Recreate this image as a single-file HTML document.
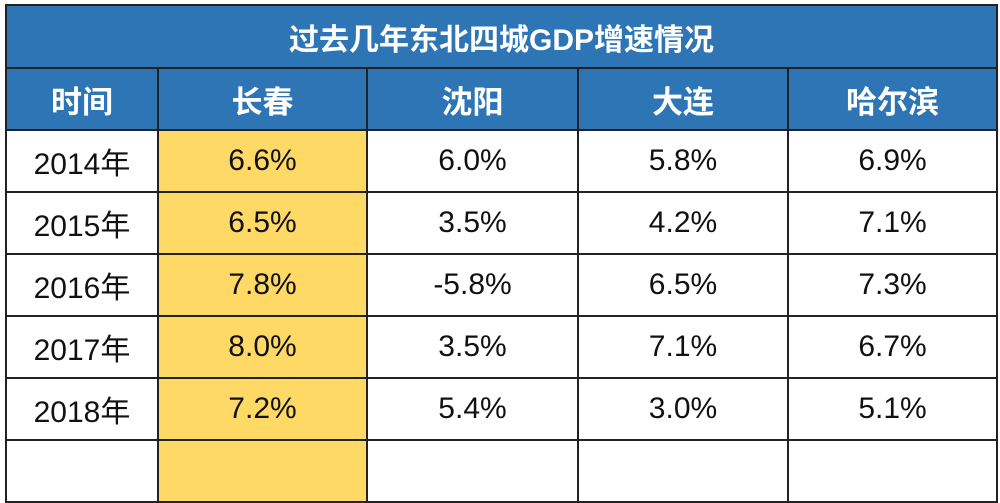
<!DOCTYPE html>
<html><head><meta charset="utf-8"><style>
body{margin:0;width:1000px;height:445px;overflow:hidden;background:#fff;font-family:"Liberation Sans","Noto Sans CJK SC",sans-serif;}
table{position:absolute;left:5px;top:4px;border-collapse:collapse;width:991px;table-layout:fixed;}
td{border:2px solid #222;text-align:center;padding:0;font-size:30px;color:#111;height:60px;}
.t td{background:#2e75b6;color:#fff;font-weight:bold;font-size:30px;height:61px;}
.h td{background:#2e75b6;color:#fff;font-weight:bold;font-size:31px;height:60px;}
.y{background:#ffd966;}
</style></head><body>
<table>
<colgroup><col style="width:152px"><col style="width:209px"><col style="width:211px"><col style="width:210px"><col style="width:209px"></colgroup>
<tr class="t"><td colspan="5">过去几年东北四城GDP增速情况</td></tr>
<tr class="h"><td>时间</td><td>长春</td><td>沈阳</td><td>大连</td><td>哈尔滨</td></tr>
<tr><td>2014年</td><td class="y">6.6%</td><td>6.0%</td><td>5.8%</td><td>6.9%</td></tr>
<tr><td>2015年</td><td class="y">6.5%</td><td>3.5%</td><td>4.2%</td><td>7.1%</td></tr>
<tr><td>2016年</td><td class="y">7.8%</td><td>-5.8%</td><td>6.5%</td><td>7.3%</td></tr>
<tr><td>2017年</td><td class="y">8.0%</td><td>3.5%</td><td>7.1%</td><td>6.7%</td></tr>
<tr><td>2018年</td><td class="y">7.2%</td><td>5.4%</td><td>3.0%</td><td>5.1%</td></tr>
<tr><td></td><td class="y"></td><td></td><td></td><td></td></tr>
</table>
</body></html>
